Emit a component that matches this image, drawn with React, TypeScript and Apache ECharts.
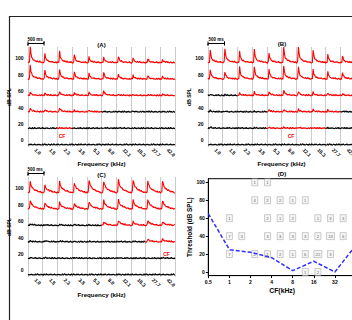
import React, { useEffect, useRef } from "react";
import * as echarts from "echarts";

// ---------- data ----------
const freqLabels = ["1.0", "1.5", "2.3", "3.5", "5.3", "8.0", "12.1", "18.3", "27.7", "42.0"];
const freqKHz = [1.0, 1.5, 2.3, 3.5, 5.3, 8.0, 12.1, 18.3, 27.7, 42.0];
const levels = [100, 80, 60, 40, 20, 0];
const levelTicks = [0, 20, 40, 60, 80, 100];

// peak response height (dB-scale units above trace baseline), row = level, col = frequency
const peaksA = [
  [19.6, 11.4, 14, 10, 7, 7, 8, 6, 5, 4],
  [17.5, 11.4, 12, 9, 7, 8, 6, 5, 4, 3],
  [4, 3, 5, 3.5, 4, 6, 1.5, 1, 1, 1.5],
  [5, 3, 5, 2, 2, 0.5, 0.5, 1, 0.5, 0.5],
  [0, 0, 0.5, 0, 0, 0.5, 0.5, 0, 0, 0],
  [0, 0, 0, 0, 0, 0, 0, 0, 0, 0],
];
const peaksB = [
  [15.5, 17.5, 14, 16, 12, 19.6, 19.6, 15.5, 10, 8],
  [12, 9, 14.7, 15.5, 12, 16, 15.5, 12, 9, 8],
  [1.5, 1, 3, 4, 5, 7, 5, 4, 3, 2],
  [1.5, 1, 0.5, 0.5, 3, 3, 3, 3, 2, 1],
  [1.5, 0.5, 0.5, 0.5, 1, 1, 1, 0.5, 0.5, 0.5],
  [0, 0, 0, 0, 0, 0, 0, 0, 0, 0],
];
const peaksC = [
  [13, 9, 13, 12, 15.5, 14, 15.5, 15.5, 14, 14],
  [10.6, 8, 8, 7, 9, 10.6, 11.4, 10.6, 12, 10.6],
  [2, 1, 1, 1, 0.5, 4.5, 6, 4.5, 6, 4.5],
  [1, 1.5, 1, 0.5, 0.5, 0.5, 0.5, 0.5, 3, 3],
  [0.5, 0.5, 0, 0.5, 0, 0, 0.5, 0, 0, 0.5],
  [0, 0, 0, 0, 0, 0, 0, 0, 0, 0],
];
// 1 = response (red), 0 = no response (black)
const redA = [
  [1, 1, 1, 1, 1, 1, 1, 1, 1, 1],
  [1, 1, 1, 1, 1, 1, 1, 1, 1, 1],
  [1, 1, 1, 1, 1, 1, 1, 1, 1, 1],
  [1, 1, 1, 1, 1, 0, 0, 0, 0, 0],
  [0, 0, 1, 0, 0, 0, 0, 0, 0, 0],
  [0, 0, 0, 0, 0, 0, 0, 0, 0, 0],
];
const redB = [
  [1, 1, 1, 1, 1, 1, 1, 1, 1, 1],
  [1, 1, 1, 1, 1, 1, 1, 1, 1, 1],
  [0, 0, 1, 1, 1, 1, 1, 1, 1, 1],
  [0, 0, 0, 0, 1, 1, 1, 1, 1, 0],
  [0, 0, 0, 0, 1, 1, 1, 1, 0, 0],
  [0, 0, 0, 0, 0, 0, 0, 0, 0, 0],
];
const redC = [
  [1, 1, 1, 1, 1, 1, 1, 1, 1, 1],
  [1, 1, 1, 1, 1, 1, 1, 1, 1, 1],
  [0, 0, 0, 0, 0, 1, 1, 1, 1, 1],
  [0, 0, 0, 0, 0, 0, 0, 0, 1, 1],
  [0, 0, 0, 0, 0, 0, 0, 0, 0, 0],
  [0, 0, 0, 0, 0, 0, 0, 0, 0, 0],
];
// response shape read off a typical PSTH (normalised)
const phasicShape = [0, 0, 0.05, 1, 0.55, 0.35, 0.25, 0.2, 0.16, 0.13, 0.11, 0.1, 0.08, 0.07, 0.06, 0.05, 0.05, 0.04, 0.03, 0.02];
const tonicShape = [0, 0, 0.1, 1, 0.75, 0.55, 0.45, 0.38, 0.32, 0.27, 0.23, 0.2, 0.17, 0.15, 0.12, 0.1, 0.08, 0.05, 0.03, 0.02];
const noise = [0.6, 1.8, 0.3, 1.1, 2.0, 0.4, 1.4, 0.2, 0.9, 1.7, 0.5, 1.2, 0.1, 1.9, 0.7, 0.3, 2.1, 0.6, 1.0, 0.2, 1.5, 0.5, 1.8, 0.8, 0.3, 1.2, 0.6, 2.0, 0.4, 1.0, 0.2, 1.4, 0.7, 1.6, 0.5, 0.9, 0.4];

// panel D
const thrFreq = [0.5, 1, 2, 4, 8, 16, 32, 64];
const thrVal = [65, 25, 22, 16, 1.5, 12, 0, 30];
const boxCounts: (number | null)[][] = [
  [null, null, 1, 1, null, null, null, null, null, null],
  [null, null, 4, 2, 2, 1, 1, null, null, null],
  [1, null, null, 2, 1, 2, null, 1, 3, 3],
  [7, 3, null, 3, 3, 3, 3, 2, 13, 6],
  [7, null, 2, 1, 2, 1, 6, 22, 3, null],
  [null, null, null, null, null, null, 1, 2, null, null],
];

const FONT = "'Liberation Sans', Arial, sans-serif";
const RED = "#ff0000";

function traceSeries(p: number, peaks: number[][], red: number[][], shape: number[]) {
  const out: any[] = [];
  const S = shape.length;
  levels.forEach((lev, r) => {
    const pts: number[][] = [];
    for (let c = 0; c < 10; c++) {
      for (let i = 0; i < S; i++) {
        const n = noise[(c * S + i + r * 11 + p * 5) % noise.length];
        pts.push([c + i / S, lev - 6 + peaks[r][c] * shape[i] + n]);
      }
    }
    pts.push([10, lev - 6 + noise[(r * 7 + p) % noise.length]]);
    let start = 0;
    for (let c = 1; c <= 10; c++) {
      if (c === 10 || red[r][c] !== red[r][start]) {
        out.push({
          type: "line",
          xAxisIndex: 2 * p + 1,
          yAxisIndex: p,
          data: pts.slice(start * S, c * S + 1),
          showSymbol: false,
          silent: true,
          lineStyle: { width: 1.1, color: red[r][start] ? RED : "#000" },
        });
        start = c;
      }
    }
  });
  return out;
}

const tickFont = { fontSize: 5, fontWeight: "bold" as const, color: "#000", fontFamily: FONT };
const nameFont = { fontSize: 6.2, fontWeight: "bold" as const, color: "#000", fontFamily: FONT };

const traceGrids = [
  { left: 28, top: 47, width: 147, height: 100 },
  { left: 208, top: 47, width: 147, height: 100 },
  { left: 28, top: 177, width: 147, height: 100 },
];
const freqNameGap = [12, 12, 14];

export default function App() {
  const ref = useRef<HTMLDivElement>(null);
  useEffect(() => {
    if (!ref.current) return;
    const chart = echarts.init(ref.current, null, { renderer: "svg" });

    const xAxis: any[] = [];
    const yAxis: any[] = [];
    traceGrids.forEach((_, p) => {
      xAxis.push({
        type: "category",
        gridIndex: p,
        data: freqLabels,
        boundaryGap: true,
        position: "bottom",
        axisLine: { show: false },
        axisTick: { show: false },
        axisLabel: { ...tickFont, rotate: -45, margin: 2, interval: 0 },
        splitLine: { show: true, interval: 0, lineStyle: { color: "#b4b4b4", width: 0.7 } },
        name: "Frequency (kHz)",
        nameLocation: "middle",
        nameGap: freqNameGap[p],
        nameTextStyle: nameFont,
      });
      xAxis.push({ type: "value", gridIndex: p, min: 0, max: 10, show: false });
      yAxis.push({
        type: "value",
        gridIndex: p,
        min: -8,
        max: 114,
        axisLine: { show: false },
        axisTick: { show: false },
        splitLine: { show: false },
        axisLabel: { ...tickFont, customValues: levelTicks, margin: 4.5 },
        name: "dB SPL",
        nameLocation: "middle",
        nameRotate: 90,
        nameGap: 12,
        nameTextStyle: { ...nameFont, fontSize: 5 },
      });
    });
    xAxis.push({
      type: "value",
      gridIndex: 3,
      min: -1,
      max: 6,
      interval: 1,
      axisLine: { show: true, onZero: false, lineStyle: { color: "#000", width: 1 } },
      axisTick: { show: true, length: 2.5, lineStyle: { color: "#000" } },
      axisLabel: { ...tickFont, margin: 3.5, formatter: (v: number) => (v >= 6 ? "" : String(Math.pow(2, v))) },
      splitLine: { show: false },
      name: "CF(kHz)",
      nameLocation: "middle",
      nameGap: 11,
      nameTextStyle: { ...nameFont, fontSize: 6.8 },
    });
    yAxis.push({
      type: "value",
      gridIndex: 3,
      min: -4,
      max: 104,
      axisLine: { show: true, onZero: false, lineStyle: { color: "#000", width: 1 } },
      axisTick: { show: true, length: 2.5, customValues: levelTicks, lineStyle: { color: "#000" } },
      axisLabel: { ...tickFont, customValues: levelTicks, margin: 3.5 },
      splitLine: { show: false },
      name: "Threshold (dB SPL)",
      nameLocation: "middle",
      nameRotate: 90,
      nameGap: 11,
      nameTextStyle: { ...nameFont, fontSize: 6.4 },
    });

    const boxData: any[] = [];
    levels.forEach((lev, r) => {
      boxCounts[r].forEach((n, c) => {
        if (n !== null) {
          boxData.push({
            value: [Math.log2(freqKHz[c]), lev, n],
            symbolSize: n >= 10 ? [8, 7] : [6, 7],
          });
        }
      });
    });

    const series: any[] = [
      ...traceSeries(0, peaksA, redA, phasicShape),
      ...traceSeries(1, peaksB, redB, phasicShape),
      ...traceSeries(2, peaksC, redC, tonicShape),
      {
        type: "scatter",
        xAxisIndex: 6,
        yAxisIndex: 3,
        data: boxData,
        symbol: "rect",
        itemStyle: { color: "#f3f3f3", borderColor: "#9a9a9a", borderWidth: 0.6 },
        label: {
          show: true,
          position: "inside",
          formatter: (q: any) => String(q.value[2]),
          fontSize: 4.2,
          color: "#333",
          fontFamily: FONT,
        },
        z: 2,
      },
      {
        type: "line",
        xAxisIndex: 6,
        yAxisIndex: 3,
        data: thrFreq.map((f, i) => [Math.log2(f), thrVal[i]]),
        showSymbol: false,
        lineStyle: { color: "#2f2fff", width: 1.5, type: [4, 2] },
        z: 5,
      },
    ];

    const txt = (text: string, x: number, y: number, size: number, fill = "#000") => ({
      type: "text",
      x,
      y,
      style: { text, fill, font: `bold ${size}px ${FONT}`, align: "center", verticalAlign: "middle" },
      silent: true,
    });
    const scaleBar = (x0: number, x1: number, y: number) => ({
      type: "polyline",
      shape: { points: [[x0, y - 2], [x0, y + 2], [x0, y], [x1, y], [x1, y - 2], [x1, y + 2]] },
      style: { stroke: "#000", lineWidth: 1, fill: "none" },
      silent: true,
    });

    chart.setOption({
      animation: false,
      backgroundColor: "#fff",
      grid: [
        ...traceGrids,
        { left: 208.3, top: 178.7, width: 147.7, height: 96.9, show: true, borderColor: "#000", borderWidth: 1, backgroundColor: "transparent" },
      ],
      xAxis,
      yAxis,
      series,
      graphic: [
        { type: "rect", shape: { x: 9.5, y: 16.5, width: 420, height: 420 }, style: { fill: "none", stroke: "#222", lineWidth: 1.2 }, silent: true },
        txt("(A)", 101.5, 45, 6),
        txt("(B)", 282, 44, 6),
        txt("(C)", 101.5, 175, 6),
        txt("(D)", 282, 174.3, 6),
        txt("500 ms", 35, 39.5, 4.5),
        txt("500 ms", 216, 39.5, 4.5),
        txt("500 ms", 35, 169.5, 4.5),
        scaleBar(28, 44, 43.5),
        scaleBar(208, 224.5, 43.5),
        scaleBar(28, 44, 173.5),
        txt("CF", 62, 136, 5, RED),
        txt("CF", 291, 136, 5, RED),
        txt("CF", 166.5, 253.5, 5, RED),
      ],
    });
    return () => chart.dispose();
  }, []);

  return (
    <div style={{ position: "fixed", left: 0, top: 0, width: 352, height: 320, overflow: "hidden", background: "#fff" }}>
      <div ref={ref} style={{ width: 380, height: 320 }} />
    </div>
  );
}
